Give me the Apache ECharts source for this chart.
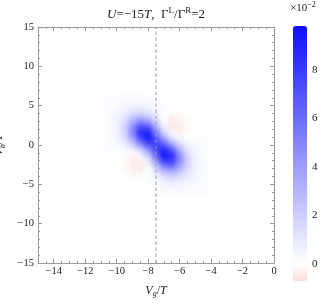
<!DOCTYPE html>
<html>
<head>
<meta charset="utf-8">
<script src="https://cdn.jsdelivr.net/npm/echarts@6/dist/echarts.min.js"></script>
<style>
  html, body { margin: 0; padding: 0; background: #fff; }
  #wrap { position: relative; width: 324px; height: 305px; }
  #heat, #chart { position: absolute; left: 0; top: 0; width: 324px; height: 305px; }
  /* soften the cell grid so it reads like a density plot */
  #heat { filter: blur(2.5px); }
</style>
</head>
<body>
<div id="wrap"><div id="heat"></div><div id="chart"></div></div>
<script>
// cell centres of the density grid
const xCells = [-10.5, -10, -9.5, -9, -8.5, -8, -7.5, -7, -6.5, -6, -5.5, -5, -4.5];
const yCells = [6, 5.5, 5, 4.5, 4, 3.5, 3, 2.5, 2, 1.5, 1, 0.5, 0,
                -0.5, -1, -1.5, -2, -2.5, -3, -3.5, -4, -4.5, -5, -5.5, -6];
// values in units of 1e-2, one row per yCells entry (top to bottom)
const heatRows = [
  [0.15, 0.18, 0.22, 0.24, 0.23, 0.20, 0.13, 0.08, 0.04, 0.03, 0.02, 0.01, 0.01],
  [0.17, 0.22, 0.29, 0.34, 0.35, 0.28, 0.18, 0.09, 0.04, 0.02, 0.02, 0.01, 0.01],
  [0.18, 0.27, 0.38, 0.53, 0.57, 0.45, 0.25, 0.08, 0.01, 0.00, 0.01, 0.02, 0.01],
  [0.20, 0.32, 0.56, 0.88, 1.02, 0.78, 0.37, 0.07, -0.05, -0.04, 0.00, 0.02, 0.01],
  [0.22, 0.38, 0.80, 1.45, 1.81, 1.41, 0.61, 0.05, -0.15, -0.11, -0.03, 0.01, 0.02],
  [0.23, 0.47, 1.12, 2.30, 3.10, 2.49, 1.08, 0.05, -0.28, -0.21, -0.07, 0.01, 0.02],
  [0.24, 0.53, 1.45, 3.31, 4.80, 4.08, 1.84, 0.14, -0.42, -0.33, -0.11, 0.00, 0.03],
  [0.24, 0.57, 1.72, 4.26, 6.66, 6.06, 2.96, 0.41, -0.48, -0.41, -0.14, 0.00, 0.03],
  [0.23, 0.57, 1.81, 4.80, 8.10, 7.96, 4.33, 0.96, -0.38, -0.42, -0.15, 0.01, 0.04],
  [0.22, 0.53, 1.70, 4.76, 8.62, 9.24, 5.72, 1.89, 0.06, -0.26, -0.09, 0.04, 0.06],
  [0.20, 0.45, 1.41, 4.08, 7.96, 9.45, 6.86, 3.23, 0.96, 0.14, 0.05, 0.08, 0.08],
  [0.17, 0.35, 1.02, 3.01, 6.36, 8.53, 7.61, 4.97, 2.41, 0.85, 0.28, 0.16, 0.11],
  [0.13, 0.25, 0.61, 1.84, 4.33, 6.86, 7.86, 6.86, 4.33, 1.84, 0.61, 0.25, 0.13],
  [0.11, 0.16, 0.28, 0.85, 2.41, 4.97, 7.61, 8.53, 6.36, 3.01, 1.02, 0.35, 0.17],
  [0.08, 0.08, 0.05, 0.14, 0.96, 3.23, 6.86, 9.45, 7.96, 4.08, 1.41, 0.45, 0.20],
  [0.06, 0.04, -0.09, -0.26, 0.06, 1.89, 5.72, 9.24, 8.62, 4.76, 1.70, 0.53, 0.22],
  [0.04, 0.01, -0.15, -0.42, -0.38, 0.96, 4.33, 7.96, 8.10, 4.80, 1.81, 0.57, 0.23],
  [0.03, 0.00, -0.14, -0.41, -0.48, 0.41, 2.96, 6.06, 6.66, 4.26, 1.72, 0.57, 0.24],
  [0.03, 0.00, -0.11, -0.33, -0.42, 0.14, 1.84, 4.08, 4.80, 3.31, 1.45, 0.53, 0.24],
  [0.02, 0.01, -0.07, -0.21, -0.28, 0.05, 1.08, 2.49, 3.10, 2.30, 1.12, 0.47, 0.23],
  [0.02, 0.01, -0.03, -0.11, -0.15, 0.05, 0.61, 1.41, 1.81, 1.45, 0.80, 0.38, 0.22],
  [0.01, 0.02, 0.00, -0.04, -0.05, 0.07, 0.37, 0.78, 1.02, 0.88, 0.56, 0.32, 0.20],
  [0.01, 0.02, 0.01, 0.00, 0.01, 0.08, 0.25, 0.45, 0.57, 0.53, 0.38, 0.27, 0.18],
  [0.01, 0.01, 0.02, 0.02, 0.04, 0.09, 0.18, 0.28, 0.35, 0.34, 0.29, 0.22, 0.17],
  [0.01, 0.01, 0.02, 0.03, 0.04, 0.08, 0.13, 0.20, 0.23, 0.24, 0.22, 0.18, 0.15]
];
const xRange = [-15, 0];
const yRange = [-15, 15];
const xLabelStep = 2;
const yLabelStep = 5;
const barRange = [-0.7, 9.8];
const barLabels = [0, 2, 4, 6, 8];
const barMinorTicks = [0, 1, 2, 3, 4, 5, 6, 7, 8, 9];
const dashX = -7.5;

const SERIF = '"Liberation Serif", "Times New Roman", serif';
const FRAME = '#9a9a9a';
const INK = '#222';
const cellW = xCells[1] - xCells[0];
const cellH = yCells[0] - yCells[1];
const G = { left: 38, top: 27, width: 236, height: 236, outerBoundsMode: 'none', containLabel: false };

// pink below zero, white at zero, blue towards the max
const pink = [252, 220, 220], blue = [14, 14, 255];
const barColors = [];
const nStops = Math.round((barRange[1] - barRange[0]) / 0.7);
for (let k = 0; k <= nStops; k++) {
  if (k === 0) { barColors.push(`rgb(${pink.join(',')})`); continue; }
  const t = (k - 1) / (nStops - 1);
  const c = blue.map(b => Math.round(255 + (b - 255) * t));
  barColors.push(`rgb(${c.join(',')})`);
}

const heatData = [];
heatRows.forEach((row, r) => row.forEach((v, c) => heatData.push([xCells[c], yCells[r], v])));

const minus = v => String(v).replace('-', '\u2212');

// ---- heat layer ----
const heat = echarts.init(document.getElementById('heat'));
heat.setOption({
  animation: false,
  grid: G,
  xAxis: { type: 'value', min: xRange[0], max: xRange[1], show: false },
  yAxis: { type: 'value', min: yRange[0], max: yRange[1], show: false },
  visualMap: { show: false, min: barRange[0], max: barRange[1], dimension: 2, inRange: { color: barColors } },
  series: [{
    type: 'custom',
    data: heatData,
    renderItem: (params, api) => {
      const x = api.value(0), y = api.value(1);
      const a = api.coord([x - cellW / 2, y + cellH / 2]);
      const b = api.coord([x + cellW / 2, y - cellH / 2]);
      return {
        type: 'rect',
        shape: { x: a[0], y: a[1], width: b[0] - a[0] + 0.6, height: b[1] - a[1] + 0.6 },
        style: { fill: api.visual('color') }
      };
    }
  }]
});

// ---- axes, labels, colour bar ----
const tickStyle = { color: FRAME, width: 1 };
const labelStyle = { fontFamily: SERIF, fontSize: 10.5, color: INK };
const sub = { fontFamily: SERIF, fontSize: 8, lineHeight: 8, verticalAlign: 'bottom', color: INK, fontStyle: 'italic' };
const it = { fontFamily: SERIF, fontSize: 12, lineHeight: 15, fontStyle: 'italic', color: INK };
const up = { fontFamily: SERIF, fontSize: 12, lineHeight: 15, color: INK };
const frameLine = { show: true, onZero: false, lineStyle: { color: FRAME, width: 1 } };

function minorX(pos, withLabel) {
  return {
    type: 'value', gridIndex: 0, position: pos, min: xRange[0], max: xRange[1], interval: 0.5,
    axisLine: frameLine,
    axisTick: { show: true, inside: true, length: 2, lineStyle: tickStyle },
    axisLabel: withLabel
      ? { show: true, margin: 3, ...labelStyle, formatter: v => (v % xLabelStep === 0 ? minus(v) : '') }
      : { show: false },
    splitLine: { show: false }
  };
}
function minorY(pos, withLabel) {
  return {
    type: 'value', gridIndex: 0, position: pos, min: yRange[0], max: yRange[1], interval: 1,
    axisLine: frameLine,
    axisTick: { show: true, inside: true, length: 2, lineStyle: tickStyle },
    axisLabel: withLabel
      ? { show: true, margin: 4, ...labelStyle, formatter: v => (v % yLabelStep === 0 ? minus(v) : '') }
      : { show: false },
    splitLine: { show: false }
  };
}
const xMajor = [];
for (let v = xRange[1]; v > xRange[0]; v -= xLabelStep) xMajor.push(v);
function majorX(pos) {
  return {
    type: 'value', gridIndex: 1, position: pos, min: xRange[0], max: xRange[1],
    axisLine: { show: false, onZero: false },
    axisTick: { show: true, inside: true, length: 4, lineStyle: tickStyle, customValues: xMajor },
    axisLabel: { show: false }, splitLine: { show: false }
  };
}
function majorY(pos) {
  return {
    type: 'value', gridIndex: 1, position: pos, min: yRange[0], max: yRange[1], interval: yLabelStep,
    axisLine: { show: false, onZero: false },
    axisTick: { show: true, inside: true, length: 4, lineStyle: tickStyle },
    axisLabel: { show: false }, splitLine: { show: false }
  };
}

const xBottom = minorX('bottom', true);
Object.assign(xBottom, {
  name: '{i|V}{s|g}{n|/}{i|T}', nameLocation: 'middle', nameGap: 20,
  nameTextStyle: { rich: { i: it, s: sub, n: up } }
});
const yLeft = minorY('left', true);
Object.assign(yLeft, {
  name: '{i|V}{s|b}{n|/}{i|T}', nameLocation: 'middle', nameGap: 22, nameRotate: 90,
  nameTextStyle: { rich: { i: it, s: sub, n: up } }
});

const chart = echarts.init(document.getElementById('chart'));
chart.setOption({
  animation: false,
  grid: [G, G, { left: 293, top: 26, width: 14, height: 255, outerBoundsMode: 'none', containLabel: false }],
  xAxis: [
    xBottom, minorX('top', false), majorX('bottom'), majorX('top'),
    { type: 'value', gridIndex: 2, show: false }
  ],
  yAxis: [
    yLeft, minorY('right', false), majorY('left'), majorY('right'),
    {
      type: 'value', gridIndex: 2, position: 'right', min: barRange[0], max: barRange[1],
      axisLine: { show: false, onZero: false },
      axisTick: { show: true, inside: true, length: 2, lineStyle: { color: '#c8c8c8' }, customValues: barMinorTicks },
      axisLabel: { show: true, margin: 5, ...labelStyle, fontSize: 11, customValues: barLabels },
      splitLine: { show: false }
    }
  ],
  visualMap: {
    type: 'continuous', show: true, seriesIndex: [], min: barRange[0], max: barRange[1],
    left: 293, top: 26, itemWidth: 14, itemHeight: 255, padding: 0,
    calculable: false, text: null, inRange: { color: barColors }
  },
  graphic: [
    {
      type: 'text', x: 156, y: 15,
      style: {
        text: '{i|U}{n|=\u221215}{i|T}{n|,  \u0393}{s|L}{n|/\u0393}{s|R}{n|=2}',
        align: 'center', verticalAlign: 'middle',
        rich: {
          i: { fontFamily: SERIF, fontSize: 13, lineHeight: 17, fontStyle: 'italic', fill: INK },
          n: { fontFamily: SERIF, fontSize: 13, lineHeight: 17, fill: INK },
          s: { fontFamily: SERIF, fontSize: 9, lineHeight: 9, verticalAlign: 'top', fill: INK }
        }
      }
    },
    {
      type: 'text', x: 303, y: 8,
      style: {
        text: '{n|\u00d710}{s|\u22122}',
        align: 'center', verticalAlign: 'middle',
        rich: {
          n: { fontFamily: SERIF, fontSize: 11, lineHeight: 14, fill: INK },
          s: { fontFamily: SERIF, fontSize: 8, lineHeight: 8, verticalAlign: 'top', fill: INK }
        }
      }
    }
  ],
  series: [{
    type: 'line', xAxisIndex: 0, yAxisIndex: 0, symbol: 'none', silent: true,
    data: [[dashX, yRange[0]], [dashX, yRange[1]]],
    lineStyle: { color: '#a0a0a0', width: 1, type: [3.5, 2.5] }
  }]
});
</script>
</body>
</html>
